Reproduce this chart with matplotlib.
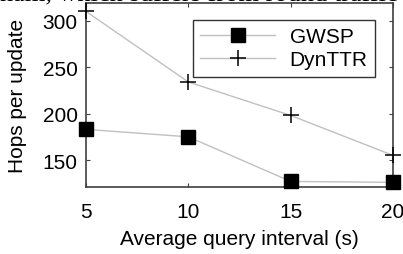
import matplotlib
matplotlib.use("Agg")
import matplotlib.pyplot as plt

# --- DATA ---
intervals = [5, 10, 15, 20]
gwsp = [183, 175, 127, 126]
dynttr = [310, 234, 198, 155]
x_ticks = [5, 10, 15, 20]
y_ticks = [150, 200, 250, 300]

plt.rcParams['font.family'] = ['Liberation Sans', 'DejaVu Sans']
FS = 15

fig = plt.figure(figsize=(4.03, 2.55), dpi=100)
W, H = 403, 255
ax = fig.add_axes([86 / W, 1 - 188 / H, (393 - 86) / W, (188 - 4) / H])

ax.plot(intervals, gwsp, color='#c0c0c0', lw=1, marker='s', ms=9.5,
        mfc='black', mec='black', label='GWSP', clip_on=False, zorder=3)
ax.plot(intervals, dynttr, color='#c0c0c0', lw=1, marker='+', ms=12,
        mew=1.1, mec='black', label='DynTTR', clip_on=False, zorder=3)

ax.set_xlim(5, 20)
ax.set_ylim(121, 319)
ax.set_xticks(x_ticks)
ax.set_yticks(y_ticks)
ax.tick_params(direction='in', top=True, right=True, labelsize=FS,
               length=3, color='#404040')
ax.tick_params(axis='x', pad=11)
ax.tick_params(axis='y', pad=6)
for s in ax.spines.values():
    s.set_color('#404040')
    s.set_linewidth(1.2)

ax.set_xlabel('Average query interval (s)', fontsize=FS)
ax.set_ylabel('Hops per update', fontsize=FS)
ax.xaxis.set_label_coords(0.5, -(240 - 188) / 184, transform=ax.transAxes)
ax.yaxis.set_label_coords((18 - 86) / 307, 0.5, transform=ax.transAxes)
ax.xaxis.label.set_va('center')
ax.yaxis.label.set_va('center')

leg = ax.legend(loc='upper right', fontsize=FS, frameon=True, fancybox=False,
                edgecolor='black', handlelength=3.6, borderpad=0.35,
                labelspacing=0.2, handletextpad=0.7,
                bbox_to_anchor=(0.975, 0.965))
leg.get_frame().set_linewidth(1.0)

# cut-off line of the page text above the figure
fig.text(0.0, 1 - 1.5 / H, 'nam, which suffers from round traffic',
         family=['Liberation Serif'], fontsize=19, va='baseline', ha='left')

fig.savefig('out.png', dpi=100)
